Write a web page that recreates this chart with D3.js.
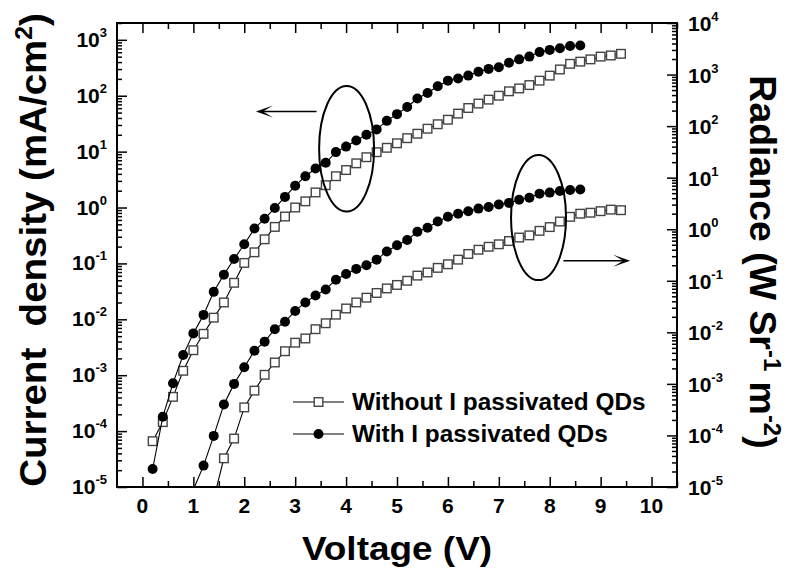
<!DOCTYPE html>
<html>
<head>
<meta charset="utf-8">
<script src="https://cdn.jsdelivr.net/npm/d3@7"></script>
<style>
  body { margin: 0; background: #fff; }
  text { font-family: "Liberation Sans", Arial, sans-serif; font-weight: bold; fill: #000; }
</style>
</head>
<body>
<div id="chart"></div>
<script>
// bias voltage (V), one entry per measured step
var volts = [0.2, 0.4, 0.6, 0.8, 1.0, 1.2, 1.4, 1.6, 1.8, 2.0, 2.2, 2.4, 2.6, 2.8, 3.0, 3.2,
  3.4, 3.6, 3.8, 4.0, 4.2, 4.4, 4.6, 4.8, 5.0, 5.2, 5.4, 5.6, 5.8, 6.0, 6.2, 6.4, 6.6, 6.8,
  7.0, 7.2, 7.4, 7.6, 7.8, 8.0, 8.2, 8.4, 8.6, 8.8, 9.0, 9.2, 9.4];

// current density (mA/cm2), left axis
var jWithout = [6.6e-5, 1.45e-4, 4.1e-4, 1.2e-3, 2.8e-3, 5.5e-3, 1.07e-2, 2.0e-2, 4.5e-2, 0.102,
  0.158, 0.27, 0.45, 0.69, 1.0, 1.29, 1.86, 2.51, 3.63, 4.68, 6.17, 7.94, 9.77, 11.7, 14.1, 17.4,
  20.9, 25.7, 30.9, 37.2, 47.9, 60.3, 72.4, 85.1, 100, 120, 135, 155, 186, 229, 295, 372, 407,
  447, 501, 525, 562];
var jWith = [2.1e-5, 1.8e-4, 7.2e-4, 2.3e-3, 5.6e-3, 1.2e-2, 3.1e-2, 6.3e-2, 0.12, 0.22, 0.42,
  0.63, 0.98, 1.55, 2.45, 3.63, 5.0, 6.3, 9.8, 12.3, 15.8, 20, 25, 35.5, 46.8, 63, 89, 112, 148,
  186, 204, 229, 269, 302, 324, 389, 447, 501, 603, 661, 708, 776, 794];

// radiance (W Sr-1 m-2), right axis
var radWithout = [null, null, null, null, null, null, 5.9e-6, 3.6e-5, 8.7e-5, 3.5e-4, 7.4e-4,
  1.5e-3, 2.6e-3, 4.3e-3, 6.3e-3, 7.6e-3, 1.15e-2, 1.5e-2, 2.2e-2, 2.9e-2, 3.8e-2, 4.7e-2, 5.8e-2,
  7.1e-2, 8.3e-2, 0.10, 0.126, 0.145, 0.178, 0.209, 0.257, 0.331, 0.40, 0.457, 0.51, 0.59, 0.69,
  0.76, 0.93, 1.10, 1.41, 1.74, 2.0, 2.09, 2.24, 2.4, 2.34];
var radWith = [null, null, null, null, 8.9e-6, 2.6e-5, 9.8e-5, 4.0e-4, 1.0e-3, 2.1e-3, 4.4e-3,
  6.6e-3, 1.15e-2, 1.6e-2, 2.6e-2, 3.8e-2, 5.2e-2, 6.8e-2, 0.105, 0.135, 0.17, 0.20, 0.257, 0.37,
  0.49, 0.62, 0.89, 1.07, 1.41, 1.74, 2.0, 2.24, 2.51, 2.69, 3.02, 3.24, 3.72, 4.07, 4.9, 5.13,
  5.5, 5.75, 5.89];

var legendLabels = ["Without I passivated QDs", "With I passivated QDs"];
var xTickValues = [0, 1, 2, 3, 4, 5, 6, 7, 8, 9, 10];
var leftExponents = [-5, -4, -3, -2, -1, 0, 1, 2, 3];
var rightExponents = [-5, -4, -3, -2, -1, 0, 1, 2, 3, 4];

// set the dimensions and margins of the graph
var margin = { top: 23, right: 114, bottom: 84, left: 117 };
var width = 791 - margin.left - margin.right;
var height = 571 - margin.top - margin.bottom;

var root = d3.select("#chart").append("svg")
  .attr("width", 791)
  .attr("height", 571)
  .style("background", "#fff");

var svg = root.append("g")
  .attr("transform", "translate(" + margin.left + "," + margin.top + ")");

var x = d3.scaleLinear().domain([-0.5, 10.5]).range([0, width]);
var yL = d3.scaleLog().domain([1e-5, 2000]).range([height, 0]);
var yR = d3.scaleLog().domain([1e-5, 1e4]).range([height, 0]);

svg.append("clipPath").attr("id", "plotclip")
  .append("rect").attr("width", width).attr("height", height);

// minor / major ticks, all pointing inward
function isDecade(d) {
  var e = Math.log10(d);
  return Math.abs(e - Math.round(e)) < 1e-9;
}
function cleanAxis(g) {
  g.select(".domain").remove();
  g.selectAll("line").attr("stroke", "#000").attr("stroke-width", 1.5);
  g.selectAll("text").remove();
}

var halfTicks = d3.range(0, 10.51, 0.5).filter(function (d) { return d % 1 !== 0; });

svg.append("g").attr("transform", "translate(0," + height + ")")
  .call(d3.axisBottom(x).tickValues(xTickValues).tickSize(-10)).call(cleanAxis);
svg.append("g").attr("transform", "translate(0," + height + ")")
  .call(d3.axisBottom(x).tickValues(halfTicks).tickSize(-6)).call(cleanAxis);
svg.append("g")
  .call(d3.axisTop(x).tickValues(xTickValues).tickSize(-10)).call(cleanAxis);
svg.append("g")
  .call(d3.axisTop(x).tickValues(halfTicks).tickSize(-6)).call(cleanAxis);

svg.append("g")
  .call(d3.axisLeft(yL).tickValues(yL.ticks().filter(function (d) { return !isDecade(d); })).tickSize(-5))
  .call(cleanAxis);
svg.append("g")
  .call(d3.axisLeft(yL).tickValues(yL.ticks().filter(isDecade)).tickSize(-10))
  .call(cleanAxis);
svg.append("g").attr("transform", "translate(" + width + ",0)")
  .call(d3.axisRight(yR).tickValues(yR.ticks().filter(function (d) { return !isDecade(d); })).tickSize(-5))
  .call(cleanAxis);
svg.append("g").attr("transform", "translate(" + width + ",0)")
  .call(d3.axisRight(yR).tickValues(yR.ticks().filter(isDecade)).tickSize(-10))
  .call(cleanAxis);

// frame
svg.append("rect")
  .attr("width", width).attr("height", height)
  .attr("fill", "none").attr("stroke", "#000").attr("stroke-width", 2);

// tick labels
svg.selectAll(".xlab").data(xTickValues).enter().append("text")
  .attr("class", "xlab")
  .attr("x", function (d) { return x(d); })
  .attr("y", height + 26)
  .attr("text-anchor", "middle")
  .style("font-size", "21px")
  .text(function (d) { return d; });

function powLabel(sel) {
  sel.append("tspan").text("10");
  sel.append("tspan")
    .attr("dy", -10)
    .style("font-size", "13px")
    .text(function (d) { return d; });
}

svg.selectAll(".ylab").data(leftExponents).enter().append("text")
  .attr("class", "ylab")
  .attr("x", -10)
  .attr("y", function (d) { return yL(Math.pow(10, d)) + 7; })
  .attr("text-anchor", "end")
  .style("font-size", "21px")
  .call(powLabel);

svg.selectAll(".rlab").data(rightExponents).enter().append("text")
  .attr("class", "rlab")
  .attr("x", width + 11)
  .attr("y", function (d) { return yR(Math.pow(10, d)) + 8; })
  .attr("text-anchor", "start")
  .style("font-size", "21px")
  .call(powLabel);

// axis titles (the original face is a little wider than Liberation Sans)
root.append("text")
  .attr("transform", "translate(397,560) scale(1.12,1)")
  .attr("text-anchor", "middle")
  .style("font-size", "33px")
  .text("Voltage (V)");

var ltitle = root.append("text")
  .attr("transform", "translate(46,250) rotate(-90) scale(1.07,1)")
  .attr("text-anchor", "middle")
  .style("font-size", "36px")
  .style("white-space", "pre");
ltitle.append("tspan").text("Current  density (mA/cm");
ltitle.append("tspan").attr("dy", -14).style("font-size", "23px").text("2");
ltitle.append("tspan").attr("dy", 14).text(")");

var rtitle = root.append("text")
  .attr("transform", "translate(750,262) rotate(90) scale(1.04,1)")
  .attr("text-anchor", "middle")
  .style("font-size", "36px")
  .style("white-space", "pre");
rtitle.append("tspan").text("Radiance (W Sr");
rtitle.append("tspan").attr("dy", -14).style("font-size", "23px").text("-1");
rtitle.append("tspan").attr("dy", 14).text(" m");
rtitle.append("tspan").attr("dy", -14).style("font-size", "23px").text("-2");
rtitle.append("tspan").attr("dy", 14).text(")");

// series
function drawSeries(values, yScale, shape) {
  var pts = volts.map(function (v, i) { return { v: v, y: values[i] }; })
    .filter(function (d) { return d.y !== null && d.y !== undefined; });
  var line = d3.line()
    .x(function (d) { return x(d.v); })
    .y(function (d) { return yScale(d.y); });
  svg.append("path")
    .datum(pts)
    .attr("clip-path", "url(#plotclip)")
    .attr("fill", "none")
    .attr("stroke", "#000")
    .attr("stroke-width", 1.1)
    .attr("d", line);
  var inside = pts.filter(function (d) {
    return d.y >= yScale.domain()[0] && d.y <= yScale.domain()[1];
  });
  if (shape === "square") {
    svg.selectAll(null).data(inside).enter().append("rect")
      .attr("x", function (d) { return x(d.v) - 4.3; })
      .attr("y", function (d) { return yScale(d.y) - 4.3; })
      .attr("width", 8.6).attr("height", 8.6)
      .attr("fill", "#fff").attr("stroke", "#444").attr("stroke-width", 1.4);
  } else {
    svg.selectAll(null).data(inside).enter().append("circle")
      .attr("cx", function (d) { return x(d.v); })
      .attr("cy", function (d) { return yScale(d.y); })
      .attr("r", 5)
      .attr("fill", "#000");
  }
}

drawSeries(jWithout, yL, "square");
drawSeries(jWith, yL, "circle");
drawSeries(radWithout, yR, "square");
drawSeries(radWith, yR, "circle");

// annotation ellipses and arrows (in data units)
function ellipse(v0, v1, yScale, y0, y1) {
  svg.append("ellipse")
    .attr("cx", (x(v0) + x(v1)) / 2)
    .attr("cy", (yScale(y0) + yScale(y1)) / 2)
    .attr("rx", (x(v1) - x(v0)) / 2)
    .attr("ry", Math.abs(yScale(y0) - yScale(y1)) / 2)
    .attr("fill", "none").attr("stroke", "#000").attr("stroke-width", 2);
}
function arrow(vFrom, vTo, yScale, yv) {
  var yy = yScale(yv), x0 = x(vFrom), x1 = x(vTo);
  var dir = x1 > x0 ? -1 : 1;
  svg.append("line")
    .attr("x1", x0).attr("x2", x1 + dir * 4)
    .attr("y1", yy).attr("y2", yy)
    .attr("stroke", "#000").attr("stroke-width", 1.5);
  svg.append("path")
    .attr("d", "M" + x1 + "," + yy +
      "L" + (x1 + dir * 17) + "," + (yy - 6) +
      "L" + (x1 + dir * 7) + "," + yy +
      "L" + (x1 + dir * 17) + "," + (yy + 6) + "Z")
    .attr("fill", "#000");
}

ellipse(3.47, 4.55, yL, 0.85, 150);
arrow(3.42, 2.23, yL, 52);
ellipse(7.24, 8.32, yR, 0.103, 27.6);
arrow(8.27, 9.58, yR, 0.245);

// legend
var legend = svg.append("g")
  .attr("transform", "translate(" + (293 - margin.left) + "," + (402 - margin.top) + ")");
legend.selectAll("line").data(legendLabels).enter().append("line")
  .attr("x1", 0).attr("x2", 51)
  .attr("y1", function (d, i) { return i * 32; })
  .attr("y2", function (d, i) { return i * 32; })
  .attr("stroke", "#000").attr("stroke-width", 1);
legend.append("rect")
  .attr("x", 25.5 - 4.3).attr("y", -4.3).attr("width", 8.6).attr("height", 8.6)
  .attr("fill", "#fff").attr("stroke", "#444").attr("stroke-width", 1.4);
legend.append("circle")
  .attr("cx", 25.5).attr("cy", 32).attr("r", 5).attr("fill", "#000");
legend.selectAll("text").data(legendLabels).enter().append("text")
  .attr("transform", function (d, i) { return "translate(59," + (i * 32 + 8) + ") scale(1.06,1)"; })
  .style("font-size", "23px")
  .text(function (d) { return d; });
</script>
</body>
</html>
